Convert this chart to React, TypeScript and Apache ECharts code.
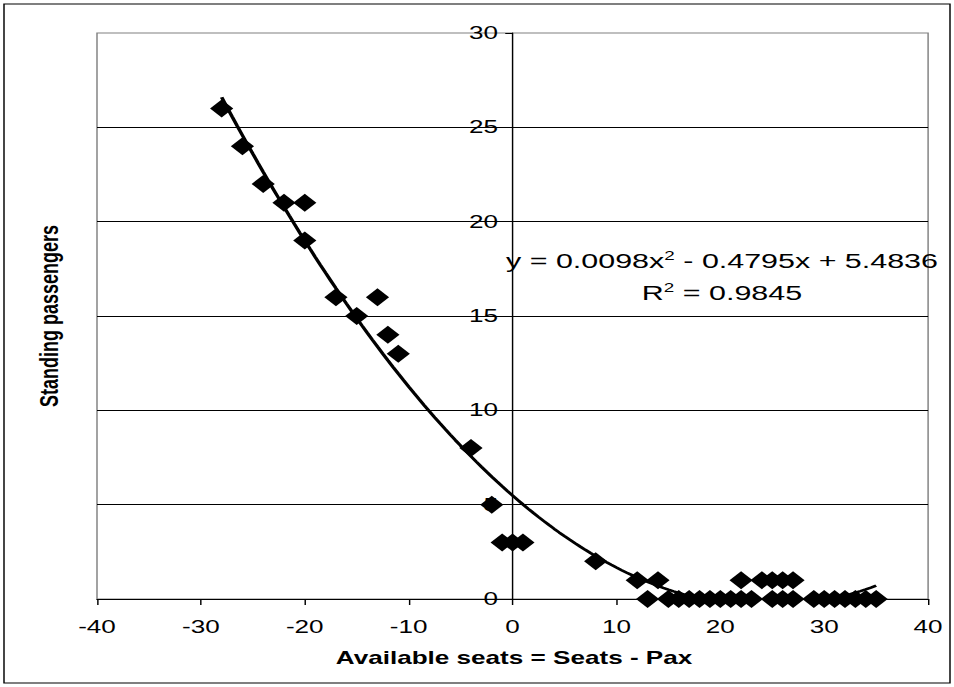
import React, { useEffect, useRef } from "react";
import * as echarts from "echarts";

// ---- data ----
const availableSeats = [
  -28, -26, -24, -22, -20, -20, -17, -15, -13, -12, -11,
  -4, -2, -1, 0, 1,
  8,
  12, 14,
  13,
  15, 16, 17, 18, 19, 20, 21, 22, 23,
  22, 24, 25, 26, 27,
  25, 26, 27,
  29, 30, 31, 32, 33, 34, 35,
];
const standingPassengers = [
  26, 24, 22, 21, 21, 19, 16, 15, 16, 14, 13,
  8, 5, 3, 3, 3,
  2,
  1, 1,
  0,
  0, 0, 0, 0, 0, 0, 0, 0, 0,
  1, 1, 1, 1, 1,
  0, 0, 0,
  0, 0, 0, 0, 0, 0, 0,
];
// polynomial trendline shown on the chart: y = a x^2 + b x + c
const trendCoefficients = [0.0098, -0.4795, 5.4836];
const trendRange = [-28, 35];
const trendLabel = "y = 0.0098x{sup|2} - 0.4795x + 5.4836";
const r2Label = "R{sup|2} = 0.9845";
const xTitle = "Available seats = Seats - Pax";
const yTitle = "Standing passengers";

// the reference is a horizontally stretched picture; reproduce the stretch
const K = 1.45;
const FULL_W = 954;
const FULL_H = 687;
const W = FULL_W / K;
const H = FULL_H;
const FONT = "'Liberation Sans', Arial, sans-serif";

const X_MIN = -40;
const X_MAX = 40;
const PLOT_LEFT = 97;
const PLOT_RIGHT = 928;

export default function App() {
  const ref = useRef<HTMLDivElement | null>(null);

  useEffect(() => {
    if (!ref.current) return;
    const chart = echarts.init(ref.current, null, { renderer: "svg" });

    const scatterData = availableSeats.map((x, i) => [x, standingPassengers[i]]);
    const [a, b, c] = trendCoefficients;
    const trendData: number[][] = [];
    for (let x = trendRange[0]; x <= trendRange[1] + 1e-9; x += 0.5) {
      trendData.push([x, a * x * x + b * x + c]);
    }

    const px = (v: number) => v / K;
    const gridLeft = px(PLOT_LEFT);
    const gridWidth = px(PLOT_RIGHT) - gridLeft;
    // y axis crosses the x axis at x = 0
    const yAxisOffset = -((0 - X_MIN) / (X_MAX - X_MIN)) * gridWidth;

    chart.setOption({
      animation: false,
      backgroundColor: "#ffffff",
      grid: {
        left: gridLeft,
        right: W - px(PLOT_RIGHT),
        top: 33,
        bottom: FULL_H - 599,
        show: true,
        borderColor: "#808080",
        borderWidth: 1,
        backgroundColor: "transparent",
      },
      xAxis: {
        type: "value",
        min: X_MIN,
        max: X_MAX,
        interval: 10,
        axisLine: { show: true, onZero: true, lineStyle: { color: "#000", width: 1 } },
        axisTick: { show: true, length: 6, lineStyle: { color: "#000" } },
        axisLabel: { color: "#000", fontSize: 18, fontFamily: FONT, margin: 19 },
        splitLine: { show: false },
      },
      yAxis: {
        type: "value",
        min: 0,
        max: 30,
        interval: 5,
        position: "left",
        offset: yAxisOffset,
        axisLine: { show: true, onZero: false, lineStyle: { color: "#000", width: 1 } },
        axisTick: { show: true, length: 5, lineStyle: { color: "#000" } },
        axisLabel: { color: "#000", fontSize: 18, fontFamily: FONT, margin: 10 },
        splitLine: { show: true, showMaxLine: false, lineStyle: { color: "#000", width: 1 } },
      },
      series: [
        {
          type: "scatter",
          data: scatterData,
          symbol: "diamond",
          symbolSize: [16, 18],
          itemStyle: { color: "#000", opacity: 1 },
          z: 3,
        },
        {
          type: "line",
          data: trendData,
          showSymbol: false,
          smooth: false,
          lineStyle: { color: "#000", width: 2.5 },
          z: 4,
        },
      ],
      graphic: [
        {
          type: "rect",
          shape: { x: px(4), y: 4, width: px(946), height: 679 },
          style: { fill: "none", stroke: "#000", lineWidth: 1 },
          silent: true,
        },
        {
          type: "text",
          x: px(49),
          y: 316,
          rotation: Math.PI / 2,
          style: {
            text: yTitle,
            font: `bold 18px ${FONT}`,
            fill: "#000",
            align: "center",
            verticalAlign: "middle",
          },
        },
        {
          type: "text",
          x: px(514),
          y: 658,
          style: {
            text: xTitle,
            font: `bold 18px ${FONT}`,
            fill: "#000",
            align: "center",
            verticalAlign: "middle",
          },
        },
        {
          type: "text",
          x: px(722),
          y: 261,
          style: {
            text: trendLabel,
            fontSize: 21,
            fontFamily: FONT,
            fill: "#000",
            align: "center",
            verticalAlign: "middle",
            rich: {
              sup: { fontSize: 13, fontFamily: FONT, fill: "#000", verticalAlign: "top", lineHeight: 24 },
            },
          },
        },
        {
          type: "text",
          x: px(722),
          y: 293,
          style: {
            text: r2Label,
            fontSize: 21,
            fontFamily: FONT,
            fill: "#000",
            align: "center",
            verticalAlign: "middle",
            rich: {
              sup: { fontSize: 13, fontFamily: FONT, fill: "#000", verticalAlign: "top", lineHeight: 24 },
            },
          },
        },
      ],
    });

    return () => {
      chart.dispose();
    };
  }, []);

  return (
    <div
      style={{
        position: "fixed",
        left: 0,
        top: 0,
        width: FULL_W,
        height: FULL_H,
        overflow: "hidden",
        background: "#fff",
      }}
    >
      <div
        ref={ref}
        style={{
          width: W,
          height: H,
          transform: `scaleX(${K})`,
          transformOrigin: "0 0",
        }}
      />
    </div>
  );
}
